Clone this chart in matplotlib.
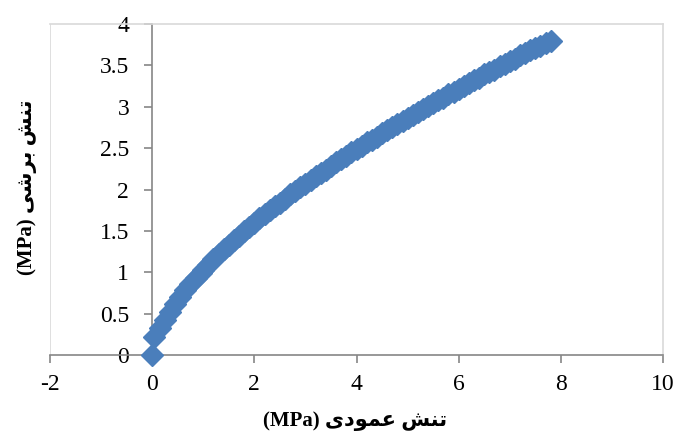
import matplotlib
matplotlib.use("Agg")
import matplotlib.pyplot as plt
from matplotlib.lines import Line2D

plt.rcParams["axes.unicode_minus"] = False

normal_stress = [0.0, 0.03, 0.15, 0.25, 0.35, 0.45, 0.55, 0.65, 0.75, 0.85, 0.95,
                 1.0, 1.1, 1.2, 1.3, 1.4, 1.5, 1.6, 1.7, 1.8, 1.9, 2.0, 2.1, 2.2, 2.3,
                 2.4, 2.5, 2.6, 2.7, 2.8, 2.9, 3.0, 3.1, 3.2, 3.3, 3.4, 3.5, 3.6, 3.7,
                 3.8, 3.9, 4.0, 4.1, 4.2, 4.3, 4.4, 4.5, 4.6, 4.7, 4.8, 4.9, 5.0, 5.1,
                 5.2, 5.3, 5.4, 5.5, 5.6, 5.7, 5.8, 5.9, 6.0, 6.1, 6.2, 6.3, 6.4, 6.5,
                 6.6, 6.7, 6.8, 6.9, 7.0, 7.1, 7.2, 7.3, 7.4, 7.5, 7.6, 7.7, 7.8]
shear_stress = [0.0, 0.22, 0.33, 0.42, 0.52, 0.62, 0.70, 0.78, 0.86, 0.93, 0.99,
                1.03, 1.09, 1.16, 1.22, 1.28, 1.33, 1.39, 1.44, 1.50, 1.55, 1.60, 1.65, 1.70, 1.75,
                1.80, 1.84, 1.89, 1.94, 1.98, 2.03, 2.07, 2.12, 2.16, 2.20, 2.24, 2.28, 2.33, 2.37,
                2.41, 2.45, 2.49, 2.53, 2.57, 2.60, 2.64, 2.68, 2.72, 2.76, 2.79, 2.83, 2.87, 2.90,
                2.94, 2.97, 3.01, 3.04, 3.08, 3.11, 3.15, 3.18, 3.22, 3.25, 3.29, 3.32, 3.35, 3.39,
                3.42, 3.45, 3.49, 3.52, 3.55, 3.58, 3.62, 3.65, 3.68, 3.71, 3.74, 3.77, 3.80]

x_ticks = [-2, 0, 2, 4, 6, 8, 10]
y_ticks = [0, 0.5, 1, 1.5, 2, 2.5, 3, 3.5, 4]
y_tick_labels = ["0", "0.5", "1", "1.5", "2", "2.5", "3", "3.5", "4"]

# Persian labels (visual order, Arabic presentation forms)
xlabel = "(MPa) \uFBFC\uFEA9\uFEEE\uFEE4\uFECB \uFEB6\uFEE8\uFE97"   # تنش عمودی (MPa)
ylabel = "(MPa) \uFBFD\uFEB7\uFEAE\uFE91 \uFEB6\uFEE8\uFE97"         # تنش برشی (MPa)

fig = plt.figure(figsize=(6.78, 4.43), dpi=100)
ax = fig.add_axes([0.0737, 0.1986, 0.9043, 0.7472])

ax.plot(normal_stress, shear_stress, linestyle="none", marker="D", markersize=11,
        markerfacecolor="#4A7EBB", markeredgecolor="#4A7EBB", clip_on=False, zorder=5)

ax.set_xlim(-2, 10)
ax.set_ylim(0, 4)
ax.set_xticks(x_ticks)
ax.set_yticks(y_ticks)
ax.set_yticklabels(y_tick_labels)

border = "#D9D9D9"
axis_c = "#868686"
for s in ["top", "right"]:
    ax.spines[s].set_color(border)
    ax.spines[s].set_linewidth(1.2)
ax.spines["left"].set_position(("data", 0))
ax.spines["left"].set_color(axis_c)
ax.spines["left"].set_linewidth(1.2)
ax.spines["bottom"].set_color(axis_c)
ax.spines["bottom"].set_linewidth(1.2)
ax.add_line(Line2D([0, 0], [0, 1], transform=ax.transAxes, color=border, lw=1.2, zorder=0))

ax.tick_params(axis="both", direction="out", length=5.5, width=1.2, color=axis_c,
               labelsize=17, labelcolor="black")
ax.tick_params(axis="x", pad=8)
ax.tick_params(axis="y", pad=11)
for lab in ax.get_xticklabels() + ax.get_yticklabels():
    lab.set_family(["Liberation Serif"])

fig.text(0.524, 0.05, xlabel, ha="center", va="center", fontsize=15, fontweight="bold",
         family=["Liberation Serif", "DejaVu Sans"])
fig.text(0.04, 0.578, ylabel, ha="center", va="center", rotation=90, fontsize=15,
         fontweight="bold", family=["Liberation Serif", "DejaVu Sans"])

fig.savefig("out.png", dpi=100)
